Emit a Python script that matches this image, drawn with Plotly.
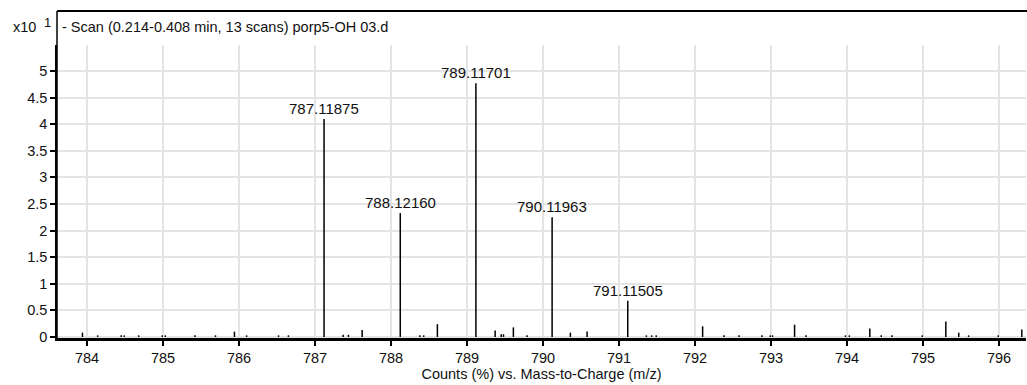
import plotly.graph_objects as go

# Labelled isotope peaks (m/z, intensity x10^1 %)
peak_mz = [787.11875, 788.12160, 789.11701, 790.11963, 791.11505]
peak_int = [4.10, 2.33, 4.77, 2.25, 0.68]

# Minor, unlabelled signals
minor_mz = [783.94, 784.14, 784.45, 784.49, 784.68, 784.99, 785.03, 785.42, 785.69,
            785.94, 786.10, 786.52, 786.65, 787.37, 787.44, 787.62, 788.38, 788.43,
            788.61, 789.37, 789.45, 789.48, 789.61, 789.79, 790.36, 790.58, 791.36,
            791.43, 791.49, 792.10, 792.38, 792.58, 792.88, 792.99, 793.02, 793.31,
            793.46, 793.98, 794.03, 794.30, 794.45, 794.59, 794.99, 795.30, 795.47,
            795.60, 795.99, 796.30]
minor_int = [0.08, 0.03, 0.03, 0.03, 0.03, 0.03, 0.03, 0.03, 0.03,
             0.10, 0.03, 0.03, 0.03, 0.04, 0.04, 0.13, 0.03, 0.03,
             0.24, 0.12, 0.05, 0.05, 0.18, 0.03, 0.08, 0.10, 0.03,
             0.03, 0.03, 0.20, 0.03, 0.03, 0.03, 0.03, 0.03, 0.23,
             0.03, 0.03, 0.03, 0.16, 0.03, 0.03, 0.03, 0.29, 0.08,
             0.03, 0.03, 0.14]

x_ticks = [784, 785, 786, 787, 788, 789, 790, 791, 792, 793, 794, 795, 796]
y_ticks = [0, 0.5, 1, 1.5, 2, 2.5, 3, 3.5, 4, 4.5, 5]
y_tick_text = ["0", "0.5", "1", "1.5", "2", "2.5", "3", "3.5", "4", "4.5", "5"]

FONT = "Liberation Sans, Arial, sans-serif"
INK = "#111111"

W, H = 1027, 385
L, R, T, B = 57, 1, 45, 47


def px_x(p):
    # pixel column -> paper x (paper spans the plotting area)
    return (p - L) / (W - L - R)


def px_y(p):
    # pixel row -> paper y
    return (H - B - p) / (H - T - B)


def sticks(xs, ys):
    sx, sy = [], []
    for x, y in zip(xs, ys):
        sx += [x, x, None]
        sy += [0, y, None]
    return sx, sy


all_mz = minor_mz + peak_mz
all_int = minor_int + peak_int
sx, sy = sticks(all_mz, all_int)

fig = go.Figure()
fig.add_trace(go.Scatter(x=sx, y=sy, mode="lines",
                         line=dict(color="#000000", width=1.5),
                         hoverinfo="skip", showlegend=False, cliponaxis=False))

annotations = []
for mz, h in zip(peak_mz, peak_int):
    annotations.append(dict(x=mz, y=h, xref="x", yref="y", text=f"{mz:.5f}",
                            showarrow=False, yanchor="bottom", yshift=0,
                            font=dict(family=FONT, size=15, color=INK)))

annotations += [
    dict(x=px_x(11), y=px_y(27), xref="paper", yref="paper", text="x10",
         showarrow=False, xanchor="left", yanchor="middle",
         font=dict(family=FONT, size=14.5, color=INK)),
    dict(x=px_x(42), y=px_y(23), xref="paper", yref="paper", text="1",
         showarrow=False, xanchor="left", yanchor="middle",
         font=dict(family=FONT, size=13, color=INK)),
    dict(x=px_x(60), y=px_y(27), xref="paper", yref="paper",
         text="- Scan (0.214-0.408 min, 13 scans) porp5-OH 03.d", showarrow=False,
         xanchor="left", yanchor="middle",
         font=dict(family=FONT, size=14.5, color=INK)),
]

fig.update_layout(
    width=W, height=H,
    margin=dict(l=L, r=R, t=T, b=B, pad=0),
    paper_bgcolor="white", plot_bgcolor="white",
    font=dict(family=FONT, size=14.5, color=INK),
    annotations=annotations,
    shapes=[
        dict(type="line", xref="paper", yref="paper",
             x0=px_x(L), x1=px_x(W), y0=px_y(11), y1=px_y(11),
             line=dict(color="#000000", width=2)),
        dict(type="line", xref="paper", yref="paper",
             x0=px_x(L), x1=px_x(L), y0=px_y(11), y1=px_y(338),
             line=dict(color="#000000", width=1.5)),
    ],
    xaxis=dict(
        range=[783.605, 796.355],
        tickmode="array", tickvals=x_ticks, ticktext=[str(t) for t in x_ticks],
        ticks="outside", ticklen=5, tickwidth=1.5, tickcolor="#000000",
        showgrid=True, gridcolor="#e4e4e4", gridwidth=1.5,
        showline=True, linecolor="#000000", linewidth=3,
        zeroline=False,
        title=dict(text="Counts (%) vs. Mass-to-Charge (m/z)", standoff=4,
                   font=dict(family=FONT, size=14.5, color=INK)),
        tickfont=dict(family=FONT, size=14.5, color=INK),
    ),
    yaxis=dict(
        range=[-0.02, 5.49],
        tickmode="array", tickvals=y_ticks, ticktext=y_tick_text,
        ticks="outside", ticklen=5, tickwidth=1.5, tickcolor="#000000",
        showgrid=True, gridcolor="#e4e4e4", gridwidth=1.5,
        showline=True, linecolor="#000000", linewidth=1.5,
        zeroline=False,
        tickfont=dict(family=FONT, size=14.5, color=INK),
    ),
)

fig.write_html("out.html")
